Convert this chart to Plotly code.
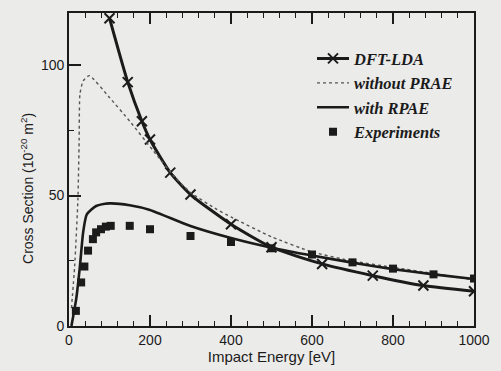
import plotly.graph_objects as go

# ---- data ----
dft_x = [100, 145, 180, 200, 250, 300, 400, 500, 625, 750, 875, 1000]
dft_y = [118, 93.5, 78.5, 71.5, 58.8, 50.4, 39.0, 30.2, 23.8, 19.3, 15.5, 13.3]

noprae_x = [6, 14, 22, 25, 27, 35, 50, 100, 150, 207, 260, 300, 365, 400, 500, 600, 700, 800, 900, 1000]
noprae_y = [6.8, 23, 48.5, 71, 89, 94, 96, 87.6, 78.5, 67.4, 57.3, 51.2, 44.7, 41.8, 34.2, 28.4, 24.9, 22.5, 20.1, 17.6]

rpae_x = [6, 18, 27, 35, 44, 67, 100, 150, 200, 300, 400, 500, 600, 700, 800, 900, 1000]
rpae_y = [0, 10.6, 23, 36, 42.8, 46, 47, 46.3, 44.5, 38.3, 33.7, 30.0, 27.0, 24.3, 21.8, 19.8, 18.0]

exp_x = [17, 30, 38, 47, 59, 67, 79, 91, 103, 150, 200, 300, 400, 500, 600, 700, 800, 900, 1000]
exp_y = [5.8, 16.7, 22.8, 28.9, 33.3, 35.9, 37.1, 38.1, 38.4, 38.4, 37.1, 34.5, 32.2, 29.8, 27.4, 24.4, 22.0, 19.8, 18.2]

x_ticks = [0, 200, 400, 600, 800, 1000]
y_ticks = [0, 50, 100]

INK = "#1b1b1b"
BG = "#ebebea"
SANS = "Liberation Sans, Arial, sans-serif"
SERIF = "Liberation Serif, Times New Roman, serif"

fig = go.Figure()
fig.add_trace(go.Scatter(
    x=dft_x, y=dft_y, mode="lines+markers", name="<b><i>DFT-LDA</i></b>",
    line=dict(color=INK, width=3, shape="spline", smoothing=0.6),
    marker=dict(symbol="x-thin", size=10, line=dict(color=INK, width=2)),
    legendgroup="a",
))
fig.add_trace(go.Scatter(
    x=noprae_x, y=noprae_y, mode="lines", name="<b><i>without PRAE</i></b>",
    line=dict(color="#555555", width=1.4, dash="dot", shape="spline", smoothing=0.5),
    legendgroup="b",
))
fig.add_trace(go.Scatter(
    x=rpae_x, y=rpae_y, mode="lines", name="<b><i>with RPAE</i></b>",
    line=dict(color=INK, width=2.6, shape="spline", smoothing=0.6),
    legendgroup="c",
))
fig.add_trace(go.Scatter(
    x=exp_x, y=exp_y, mode="markers", name="<b><i>Experiments</i></b>",
    marker=dict(symbol="square", size=8, color=INK, line=dict(width=0)),
    legendgroup="d",
))

fig.update_layout(
    width=501, height=371,
    margin=dict(l=69, r=19, t=11, b=43),
    paper_bgcolor=BG, plot_bgcolor=BG,
    font=dict(family=SANS, size=14, color=INK),
    showlegend=True,
    legend=dict(
        x=0.6, y=0.91, xanchor="left", yanchor="top",
        bgcolor="rgba(0,0,0,0)", borderwidth=0,
        font=dict(family=SERIF, size=16.5, color=INK),
        traceorder="grouped", tracegroupgap=0,
        itemwidth=32,
    ),
    xaxis=dict(
        range=[0, 1000], tickvals=x_ticks, ticks="inside", ticklen=11, tickwidth=1.5,
        tickcolor=INK, showline=True, linecolor=INK, linewidth=1.6, mirror="ticks",
        showgrid=False, zeroline=False,
        minor=dict(dtick=40, ticks="inside", ticklen=5, tickwidth=1.3, tickcolor=INK, showgrid=False),
        title=dict(text="Impact Energy [eV]", font=dict(size=15, family=SANS), standoff=2),
        tickfont=dict(size=14),
    ),
    yaxis=dict(
        range=[0, 120], tickvals=y_ticks, ticks="inside", ticklen=12, tickwidth=1.5,
        tickcolor=INK, showline=True, linecolor=INK, linewidth=1.6, mirror=True,
        showgrid=False, zeroline=False,
        minor=dict(dtick=25, ticks="inside", ticklen=5, tickwidth=1.3, tickcolor=INK, showgrid=False),
        tickfont=dict(size=14),
    ),
)

fig.add_annotation(
    text="Cross Section (10<sup>-20</sup> m<sup>2</sup>)",
    xref="paper", yref="paper", x=-0.102, y=0.44, xanchor="center", yanchor="middle",
    textangle=-90, showarrow=False, font=dict(family=SANS, size=14, color=INK),
)

fig.write_html("out.html")
